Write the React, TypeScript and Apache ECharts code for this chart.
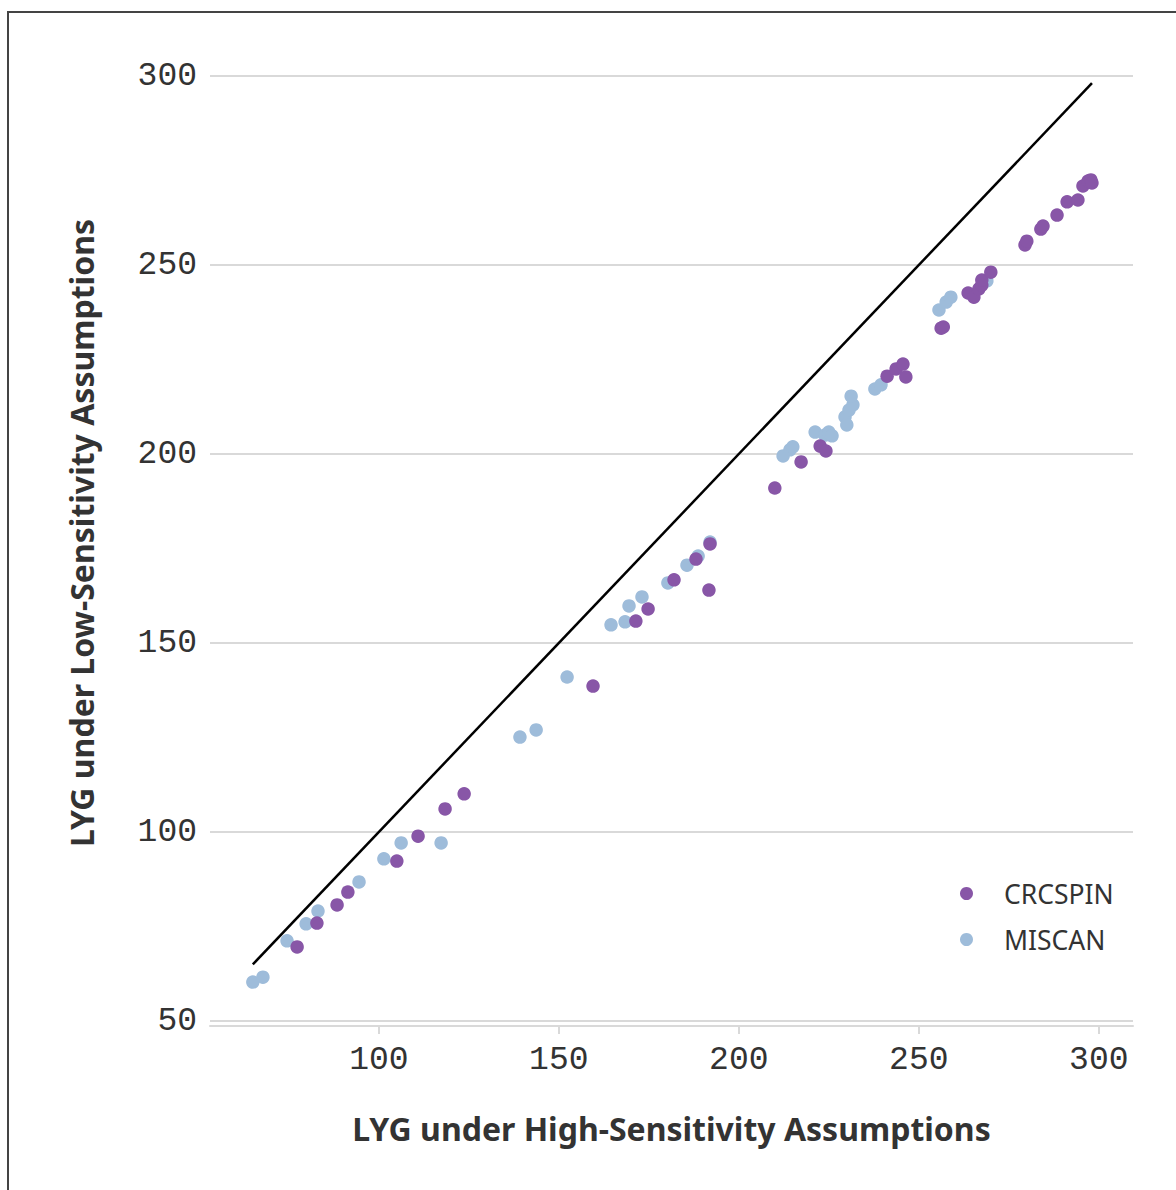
import React, { useEffect, useRef } from "react";
import * as echarts from "echarts";

const crcspinX = [77.3, 82.8, 88.4, 91.4, 105.0, 110.9, 118.4, 123.7, 159.5, 171.4, 174.8, 182.0, 188.1, 191.7, 192.0, 210.0, 217.3, 222.6, 224.2, 241.2, 243.7, 245.6, 246.4, 256.2, 256.8, 263.7, 265.3, 266.7, 267.5, 267.5, 270.0, 279.5, 280.0, 283.9, 284.5, 288.4, 291.2, 294.2, 295.6, 297.0, 297.8, 298.1];
const crcspinY = [69.6, 75.9, 80.7, 84.1, 92.3, 98.9, 106.1, 110.1, 138.6, 155.8, 159.0, 166.7, 172.2, 164.0, 176.2, 191.0, 197.9, 202.1, 200.8, 220.6, 222.5, 223.8, 220.4, 233.3, 233.6, 242.6, 241.5, 243.7, 244.7, 246.0, 248.1, 255.3, 256.3, 259.5, 260.3, 263.2, 266.7, 267.2, 270.9, 272.2, 272.5, 271.7];

const miscanX = [65.0, 67.8, 74.5, 79.8, 83.1, 94.5, 101.4, 106.2, 117.3, 139.2, 143.7, 152.3, 164.5, 168.4, 169.5, 173.1, 180.3, 185.6, 188.7, 192.0, 212.3, 214.2, 215.0, 221.2, 223.9, 225.0, 225.9, 229.5, 230.0, 230.6, 231.7, 231.2, 237.8, 239.5, 255.6, 257.6, 258.9, 268.9];
const miscanY = [60.3, 61.6, 71.2, 75.7, 79.1, 86.8, 92.9, 97.1, 97.1, 125.1, 127.0, 141.0, 154.8, 155.6, 159.8, 162.2, 165.9, 170.6, 173.0, 176.7, 199.5, 201.1, 201.9, 205.8, 205.0, 205.8, 204.8, 209.8, 207.7, 211.6, 213.0, 215.3, 217.2, 218.3, 238.1, 240.2, 241.5, 245.8];

const xTicks = [100, 150, 200, 250, 300];
const seriesNames = ["CRCSPIN", "MISCAN"];
const colors = ["#8856a7", "#9ebcda"];

export default function App() {
  const ref = useRef<HTMLDivElement>(null);
  useEffect(() => {
    if (!ref.current) return;
    const chart = echarts.init(ref.current, undefined, { renderer: "svg" });
    const allX = [...crcspinX, ...miscanX];
    const lo = Math.min(...allX);
    const hi = Math.max(...allX);
    const monoFont = "Liberation Mono";
    chart.setOption({
      animation: false,
      backgroundColor: "#ffffff",
      grid: { left: 210, right: 43, top: 76, bottom: 169, containLabel: false },
      legend: {
        orient: "vertical",
        left: 955,
        top: 875,
        itemWidth: 13,
        itemHeight: 13,
        itemGap: 19,
        icon: "circle",
        data: seriesNames,
        textStyle: {
          fontFamily: "Noto Sans",
          fontSize: 26.5,
          color: "#333333",
          padding: [0, 0, 0, 26],
        },
      },
      xAxis: {
        type: "value",
        min: 53.1,
        max: 309.5,
        offset: 5,
        name: "LYG under High-Sensitivity Assumptions",
        nameLocation: "middle",
        nameGap: 86,
        nameTextStyle: {
          fontFamily: "Noto Sans",
          fontWeight: "bold",
          fontSize: 32,
          color: "#333333",
        },
        axisLine: { show: true, lineStyle: { color: "#d9d9d9", width: 2 } },
        axisTick: { show: true, customValues: xTicks, length: 8, lineStyle: { color: "#d9d9d9", width: 2 } },
        axisLabel: {
          customValues: xTicks,
          margin: 18,
          fontFamily: monoFont,
          fontSize: 33,
          color: "#333333",
        },
        splitLine: { show: false },
      },
      yAxis: {
        type: "value",
        min: 50,
        max: 300,
        interval: 50,
        axisLine: { show: false },
        axisTick: { show: false },
        axisLabel: {
          margin: 13,
          padding: [4, 0, 0, 0],
          fontFamily: monoFont,
          fontSize: 33,
          color: "#333333",
        },
        splitLine: { show: true, lineStyle: { color: "#d9d9d9", width: 2 } },
      },
      graphic: [
        {
          type: "rect",
          shape: { x: 8, y: 12, width: 1300, height: 1300 },
          style: { fill: "none", stroke: "#444444", lineWidth: 2 },
          silent: true,
        },
        {
          type: "text",
          x: 81,
          y: 533,
          rotation: Math.PI / 2,
          style: {
            text: "LYG under Low-Sensitivity Assumptions",
            fontFamily: "Noto Sans",
            fontWeight: "bold",
            fontSize: 32,
            fill: "#333333",
            align: "center",
            verticalAlign: "middle",
          },
        },
      ],
      series: [
        {
          name: "Identity",
          type: "line",
          data: [[lo, lo], [hi, hi]],
          symbol: "none",
          lineStyle: { color: "#000000", width: 2.5 },
          z: 1,
        },
        {
          name: seriesNames[0],
          type: "scatter",
          symbolSize: 13.5,
          itemStyle: { color: colors[0], opacity: 1 },
          data: crcspinX.map((x, i) => [x, crcspinY[i]]),
          z: 3,
        },
        {
          name: seriesNames[1],
          type: "scatter",
          symbolSize: 13.5,
          itemStyle: { color: colors[1], opacity: 1 },
          data: miscanX.map((x, i) => [x, miscanY[i]]),
          z: 2,
        },
      ],
    });
    return () => chart.dispose();
  }, []);
  return (
    <div
      ref={ref}
      style={{ position: "fixed", left: 0, top: 0, width: 1176, height: 1190 }}
    />
  );
}
